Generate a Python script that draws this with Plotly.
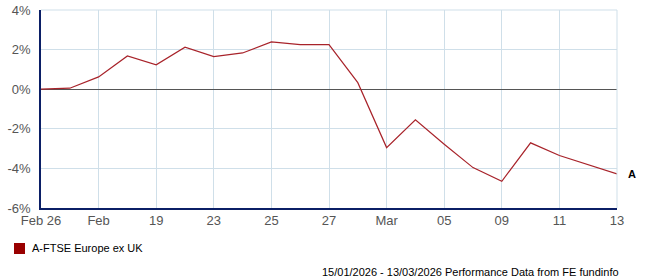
import plotly.graph_objects as go

# Data
point_index = list(range(21))
tick_positions = [0, 2, 4, 6, 8, 10, 12, 14, 16, 18, 20]
tick_labels = ["Feb 26", "Feb", "19", "23", "25", "27", "Mar", "05", "09", "11", "13"]
series_name = "A-FTSE Europe ex UK"
series_values = [0.0, 0.05, 0.62, 1.68, 1.23, 2.12, 1.65, 1.83, 2.39, 2.25, 2.25,
                 0.33, -2.95, -1.55, -2.78, -3.96, -4.65, -2.71, -3.35, -3.81, -4.28]
y_ticks = [-6, -4, -2, 0, 2, 4]
y_tick_labels = [f"{v}%" for v in y_ticks]

line_color = "#a8232a"
grid_color = "#cfdfe9"
axis_color = "#0b1f66"

fig = go.Figure()
fig.add_trace(go.Scatter(x=point_index, y=series_values, mode="lines", name=series_name,
                         line=dict(color=line_color, width=1.2), showlegend=False,
                         hoverinfo="skip"))

fig.add_annotation(x=point_index[-1], y=series_values[-1], text="<b>A</b>",
                   showarrow=False, xanchor="left", xshift=9,
                   font=dict(size=11, color="#000", family="Liberation Sans, Arial"))
fig.add_annotation(xref="paper", yref="paper", x=1.007, y=-0.323,
                   text="15/01/2026 - 13/03/2026 Performance Data from FE fundinfo",
                   showarrow=False, xanchor="right", yanchor="middle",
                   font=dict(size=11, color="#000", family="Liberation Sans, Arial"))

# legend (square key + label)
fig.add_shape(type="rect", xref="paper", yref="paper",
              x0=-0.0469, x1=-0.0278, y0=-0.2323, y1=-0.1768,
              fillcolor="#990000", line=dict(width=0))
fig.add_annotation(xref="paper", yref="paper", x=-0.0191, y=-0.2045,
                   text=series_name, showarrow=False, xanchor="left", yanchor="middle",
                   font=dict(size=11, color="#000", family="Liberation Sans, Arial"))

# top and right border
fig.add_shape(type="line", xref="paper", yref="paper", x0=0, x1=1, y0=1, y1=1,
              line=dict(color=grid_color, width=1))
fig.add_shape(type="line", xref="paper", yref="paper", x0=1, x1=1, y0=0, y1=1,
              line=dict(color=grid_color, width=1))

fig.update_layout(
    width=647, height=280,
    margin=dict(l=41, r=30, t=10, b=72, autoexpand=False),
    paper_bgcolor="white", plot_bgcolor="white",
    font=dict(family="Liberation Sans, Arial", size=12, color="#555"),
    xaxis=dict(range=[0, 20], tickvals=tick_positions, ticktext=tick_labels,
               showgrid=True, gridcolor=grid_color, gridwidth=1,
               showline=True, linecolor=axis_color, linewidth=1.5,
               ticks="", zeroline=False, tickfont=dict(size=13, color="#555")),
    yaxis=dict(range=[-6, 4], tickvals=y_ticks, ticktext=y_tick_labels,
               showgrid=True, gridcolor=grid_color, gridwidth=1,
               showline=True, linecolor=axis_color, linewidth=1.5,
               zeroline=True, zerolinecolor="#555", zerolinewidth=1,
               ticks="outside", ticklen=6, tickcolor="rgba(0,0,0,0)",
               tickfont=dict(size=13, color="#555")),
    showlegend=False,
)

fig.write_html("out.html")
